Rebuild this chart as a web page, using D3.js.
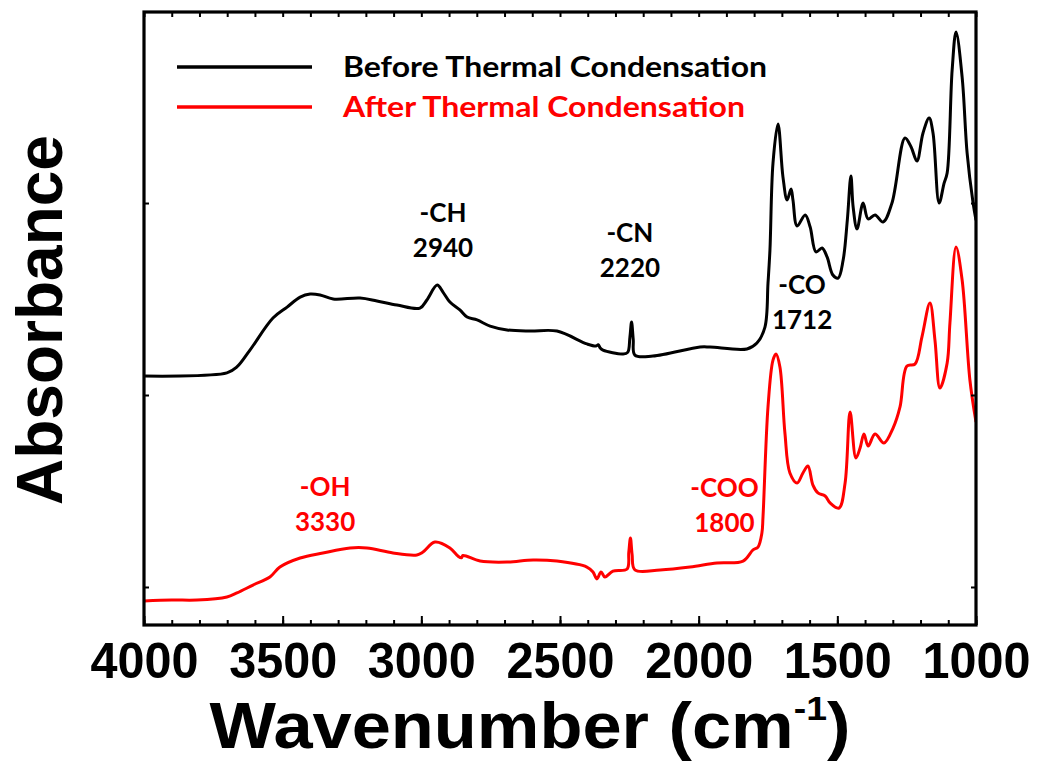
<!DOCTYPE html>
<html>
<head>
<meta charset="utf-8">
<script src="https://cdn.jsdelivr.net/npm/d3@7"></script>
<style>
  html, body { margin: 0; padding: 0; background: #fff; }
  svg { display: block; }
</style>
</head>
<body>
<svg id="chart" width="1039" height="762"></svg>
<script>
// FTIR spectra, wavenumber (cm^-1) vs absorbance (offset, arbitrary units)
const beforeWavenumber = [4000, 3701, 3665, 3618, 3535, 3484, 3437, 3401, 3365, 3318, 3221, 3160, 3088, 3005, 2980, 2943, 2922, 2897, 2861, 2835, 2799, 2752, 2691, 2608, 2511, 2403, 2370, 2362, 2355, 2345, 2273, 2256, 2248, 2242, 2236, 2230, 2165, 1995, 1959, 1826, 1790, 1761, 1750, 1743, 1732, 1714, 1696, 1681, 1667, 1660, 1645, 1616, 1598, 1577, 1555, 1537, 1516, 1497, 1479, 1464, 1451, 1443, 1429, 1407, 1389, 1364, 1335, 1303, 1256, 1234, 1213, 1191, 1169, 1155, 1133, 1115, 1104, 1086, 1072, 1050, 1032, 1011, 1000];
const beforeAbsorbance = [1.099, 1.115, 1.146, 1.234, 1.401, 1.458, 1.510, 1.526, 1.521, 1.500, 1.505, 1.490, 1.469, 1.453, 1.495, 1.573, 1.536, 1.484, 1.443, 1.406, 1.391, 1.359, 1.339, 1.333, 1.333, 1.266, 1.255, 1.262, 1.245, 1.234, 1.214, 1.222, 1.300, 1.380, 1.290, 1.208, 1.203, 1.250, 1.250, 1.240, 1.271, 1.354, 1.583, 1.755, 2.208, 2.411, 2.135, 2.016, 2.073, 2.016, 1.880, 1.938, 1.875, 1.745, 1.766, 1.719, 1.625, 1.609, 1.703, 1.911, 2.141, 1.979, 1.865, 2.000, 1.917, 1.938, 1.901, 2.000, 2.339, 2.292, 2.219, 2.365, 2.443, 2.365, 2.000, 2.104, 2.156, 2.693, 2.891, 2.656, 2.260, 2.005, 1.911];

const afterWavenumber = [4000, 3900, 3809, 3701, 3665, 3607, 3546, 3510, 3437, 3355, 3257, 3196, 3102, 3016, 2994, 2951, 2897, 2868, 2855, 2850, 2788, 2691, 2597, 2511, 2403, 2381, 2367, 2352, 2338, 2309, 2258, 2252, 2246, 2240, 2230, 2139, 2031, 1934, 1840, 1804, 1786, 1772, 1768, 1750, 1732, 1721, 1707, 1689, 1671, 1645, 1624, 1606, 1588, 1570, 1544, 1526, 1494, 1472, 1454, 1433, 1418, 1404, 1389, 1364, 1332, 1299, 1274, 1249, 1220, 1195, 1166, 1148, 1130, 1104, 1094, 1072, 1050, 1022, 1000];
const afterAbsorbance = [-0.073, -0.068, -0.068, -0.052, -0.031, 0.010, 0.052, 0.104, 0.151, 0.177, 0.203, 0.203, 0.177, 0.167, 0.182, 0.234, 0.203, 0.161, 0.152, 0.164, 0.135, 0.130, 0.141, 0.135, 0.104, 0.078, 0.042, 0.078, 0.052, 0.083, 0.094, 0.180, 0.255, 0.170, 0.089, 0.089, 0.104, 0.125, 0.135, 0.193, 0.208, 0.281, 0.365, 0.938, 1.182, 1.214, 1.146, 0.802, 0.594, 0.542, 0.594, 0.630, 0.531, 0.490, 0.474, 0.438, 0.411, 0.542, 0.911, 0.672, 0.724, 0.797, 0.734, 0.797, 0.750, 0.828, 0.938, 1.151, 1.161, 1.302, 1.479, 1.286, 1.036, 1.167, 1.375, 1.771, 1.599, 1.078, 0.859];

const xTicksMajor = [4000, 3500, 3000, 2500, 2000, 1500, 1000];
const xTicksMinor = d3.range(1000, 4001, 100);
const yTicks = [0, 1, 2];

const seriesNames = ["Before Thermal Condensation", "After Thermal Condensation"];
const seriesColors = ["#000000", "#ff0000"];

// Peak annotations, placed in data coordinates (baseline of the first line)
const peakLabels = [
  { wn: 2922, y: 1.901, series: 0, top: "-CH", bottom: "2940" },
  { wn: 2248, y: 1.795, series: 0, top: "-CN", bottom: "2220" },
  { wn: 1627, y: 1.526, series: 0, top: "-CO", bottom: "1712" },
  { wn: 3347, y: 0.474, series: 1, top: "-OH", bottom: "3330" },
  { wn: 1907, y: 0.469, series: 1, top: "-COO", bottom: "1800" }
];

const svg = d3.select("#chart");
const margin = { left: 144, right: 63, top: 12, bottom: 137 };
const W = 1039, H = 762;

const x = d3.scaleLinear().domain([4000, 1000]).range([margin.left, W - margin.right]);
const y = d3.scaleLinear().domain([-0.198, 2.995]).range([H - margin.bottom, margin.top]);

const line = d3.line()
  .x(d => x(d[0]))
  .y(d => y(d[1]))
  .curve(d3.curveCatmullRom.alpha(0.5));

const g = svg.append("g");

svg.append("clipPath").attr("id", "plotclip")
  .append("rect")
  .attr("x", margin.left).attr("y", margin.top)
  .attr("width", W - margin.right - margin.left)
  .attr("height", H - margin.bottom - margin.top);

const beforeData = beforeWavenumber.map((w, i) => [w, beforeAbsorbance[i]]);
const afterData = afterWavenumber.map((w, i) => [w, afterAbsorbance[i]]);

[beforeData, afterData].forEach((data, i) => {
  g.append("path").datum(data)
    .attr("clip-path", "url(#plotclip)")
    .attr("fill", "none").attr("stroke", seriesColors[i])
    .attr("stroke-width", 3).attr("stroke-linejoin", "round")
    .attr("d", line);
});

// Axes: ticks point inward
const y0 = H - margin.bottom, y1 = margin.top;
const x0 = margin.left, x1 = W - margin.right;

const bottomMinor = d3.axisBottom(x).tickValues(xTicksMinor).tickSize(-5).tickFormat("");
const bottomMajor = d3.axisBottom(x).tickValues(xTicksMajor).tickSize(-9).tickPadding(17).tickFormat(d3.format("d"));
const topMinor = d3.axisTop(x).tickValues(xTicksMinor).tickSize(-5).tickFormat("");
const leftAx = d3.axisLeft(y).tickValues(yTicks).tickSize(-5).tickFormat("");
const rightAx = d3.axisRight(y).tickValues(yTicks).tickSize(-5).tickFormat("");

function styleAxis(sel) {
  sel.select(".domain").remove();
  sel.selectAll(".tick line").attr("stroke", "#000").attr("stroke-width", 2);
}

svg.append("g").attr("transform", `translate(0,${y0})`).call(bottomMinor).call(styleAxis);
const bm = svg.append("g").attr("transform", `translate(0,${y0})`).call(bottomMajor).call(styleAxis);
bm.selectAll(".tick text")
  .attr("font-family", "'Liberation Sans', Arial, sans-serif")
  .attr("font-weight", "bold").attr("font-size", 50)
  .attr("textLength", 108).attr("lengthAdjust", "spacingAndGlyphs")
  .attr("fill", "#000").attr("dy", "0.71em");
svg.append("g").attr("transform", `translate(0,${y1})`).call(topMinor).call(styleAxis);
svg.append("g").attr("transform", `translate(${x0},0)`).call(leftAx).call(styleAxis);
svg.append("g").attr("transform", `translate(${x1},0)`).call(rightAx).call(styleAxis);

// Frame
svg.append("rect")
  .attr("x", x0).attr("y", y1)
  .attr("width", x1 - x0).attr("height", y0 - y1)
  .attr("fill", "none").attr("stroke", "#000").attr("stroke-width", 3.2);

// Axis titles
const xt = svg.append("text")
  .attr("transform", "translate(530,748) scale(1.1,1)")
  .attr("text-anchor", "middle")
  .attr("font-family", "'Liberation Sans', Arial, sans-serif")
  .attr("font-weight", "bold").attr("font-size", 64).attr("fill", "#000");
xt.append("tspan").text("Wavenumber (cm");
xt.append("tspan").attr("font-size", 34).attr("dy", -28).text("-1");
xt.append("tspan").attr("dy", 28).text(")");

svg.append("text")
  .attr("transform", "translate(62,320) rotate(-90)")
  .attr("text-anchor", "middle")
  .attr("font-family", "'Liberation Sans', Arial, sans-serif")
  .attr("font-weight", "bold").attr("font-size", 64).attr("fill", "#000")
  .text("Absorbance");

// Legend
const legendRows = [67, 107];
const legendTextWidths = [424, 402];
seriesNames.forEach((name, i) => {
  svg.append("line")
    .attr("x1", 177).attr("x2", 312)
    .attr("y1", legendRows[i]).attr("y2", legendRows[i])
    .attr("stroke", seriesColors[i]).attr("stroke-width", 3.5);
  svg.append("text")
    .attr("x", 343).attr("y", legendRows[i] + 10)
    .attr("font-family", "Lato, 'Open Sans', sans-serif")
    .attr("font-weight", "bold").attr("font-size", 29)
    .attr("textLength", legendTextWidths[i]).attr("lengthAdjust", "spacingAndGlyphs")
    .attr("fill", seriesColors[i])
    .text(name);
});

// Peak annotations
peakLabels.forEach(p => {
  const t = svg.append("text")
    .attr("text-anchor", "middle")
    .attr("font-family", "Lato, 'Open Sans', sans-serif")
    .attr("font-weight", "bold").attr("font-size", 26)
    .attr("fill", seriesColors[p.series]);
  t.append("tspan").attr("x", x(p.wn)).attr("y", y(p.y)).text(p.top);
  t.append("tspan").attr("x", x(p.wn)).attr("y", y(p.y) + 35).text(p.bottom);
});
</script>
</body>
</html>
